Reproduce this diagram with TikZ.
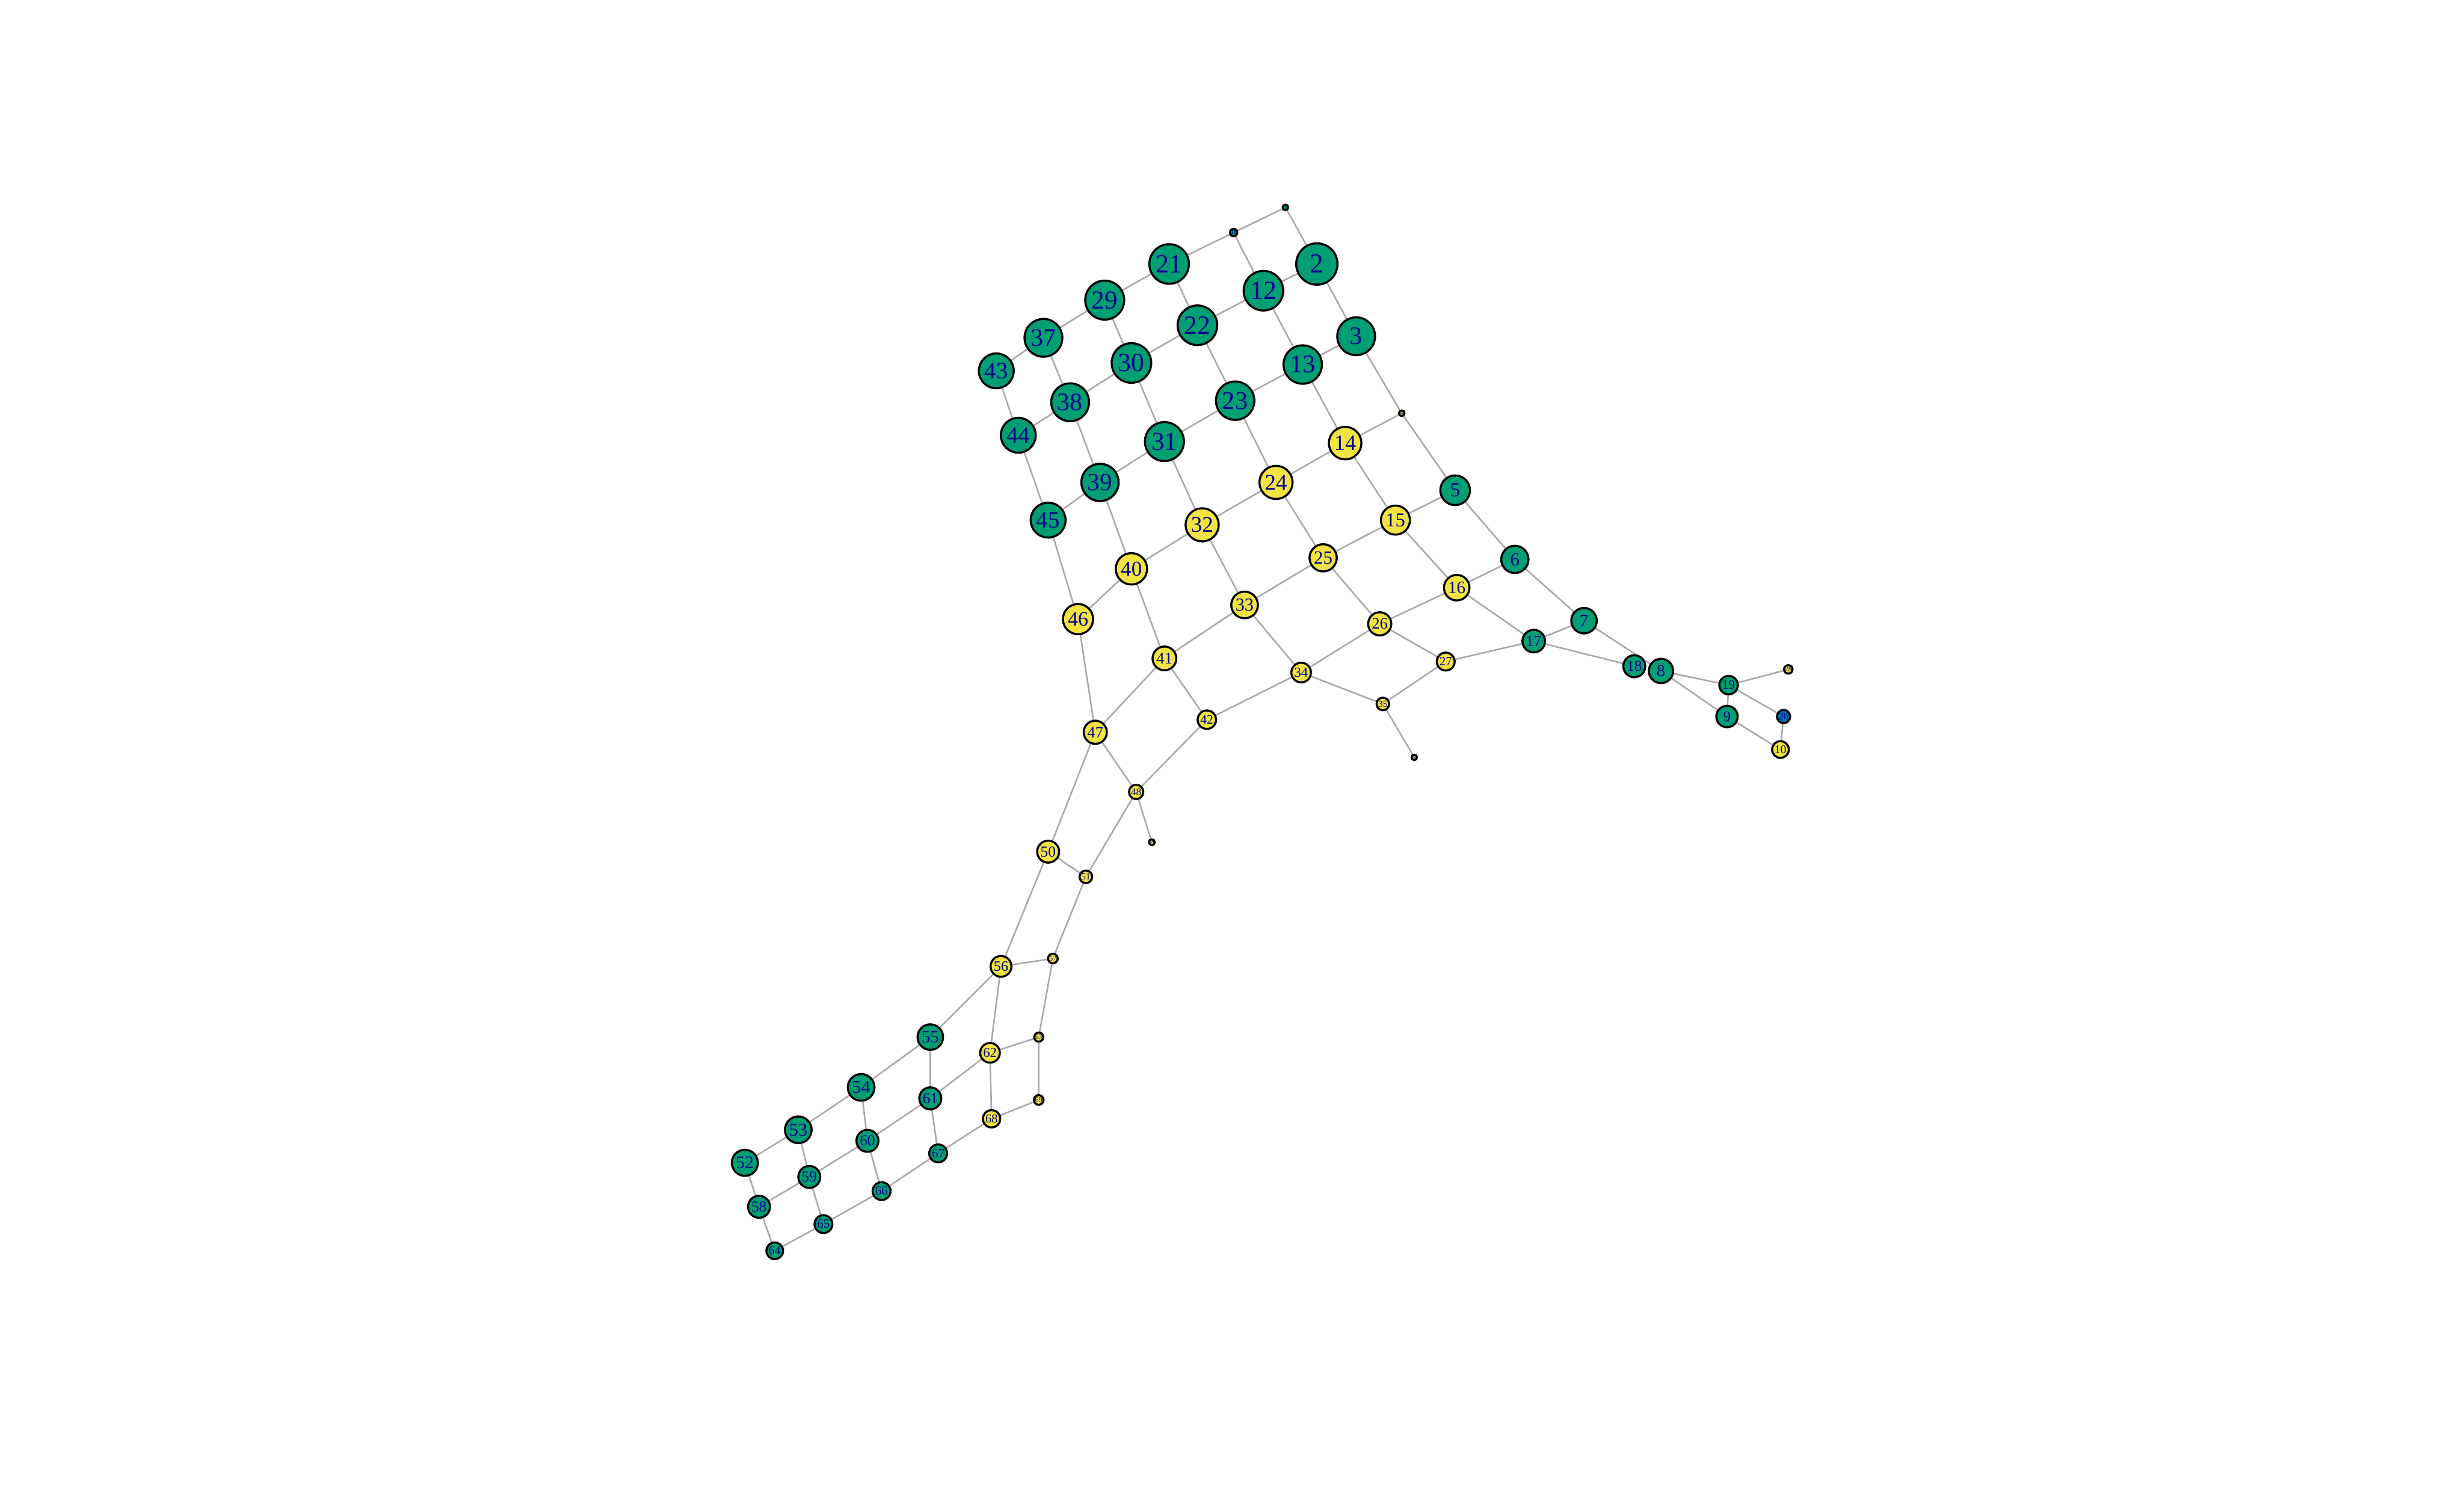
\documentclass[tikz,border=0pt]{standalone}
\usepackage{fontspec}
\setmainfont{Liberation Serif}
\usepackage{tikz}
\usetikzlibrary{backgrounds}
\definecolor{bluegreen}{HTML}{009E73}
\definecolor{okyellow}{HTML}{F0E442}
\definecolor{okblue}{HTML}{0072B2}
\definecolor{labelblue}{HTML}{00008B}
\definecolor{edgegray}{HTML}{A9A9A9}
\tikzset{
  vnode/.style={
    circle, draw=black, fill=#1, line width=1pt,
    inner sep=0pt, text=labelblue
  },
  vnode/.default=bluegreen,
  vsize/.style={
    minimum size=(#1-3.5)*0.01cm,
    font=\fontsize{\dimexpr #1pt*18/100\relax}{\dimexpr #1pt*20/100\relax}\selectfont
  },
  edgeline/.style={draw=edgegray, line width=0.75pt},
}
\begin{document}
\begin{tikzpicture}[x=0.026786cm, y=-0.026786cm]

\useasboundingbox (0,0) rectangle (1568,952);

% upper block
\node[vnode, vsize=13] (v1) at (818,132) {1};
\node[vnode, vsize=16] (v11) at (785,148) {11};
\node[vnode, vsize=74] (v2) at (838,168) {2};
\node[vnode, vsize=71] (v12) at (804,185) {12};
\node[vnode, vsize=71] (v21) at (744,168) {21};
\node[vnode, vsize=70] (v29) at (703,191) {29};
\node[vnode, vsize=68] (v37) at (664,215) {37};
\node[vnode, vsize=63] (v43) at (634,236) {43};
\node[vnode, vsize=71] (v22) at (762,207) {22};
\node[vnode, vsize=68] (v3) at (863,214) {3};
\node[vnode, vsize=69] (v13) at (829,232) {13};
\node[vnode, vsize=71] (v30) at (720,231) {30};
\node[vnode, vsize=68] (v38) at (681,256) {38};
\node[vnode, vsize=63] (v44) at (648,277) {44};
\node[vnode, vsize=69] (v23) at (786,255) {23};
\node[vnode=okyellow, vsize=13] (v4) at (892,263) {4};
\node[vnode=okyellow, vsize=59] (v14) at (856,282) {14};
\node[vnode, vsize=70] (v31) at (741,281) {31};
\node[vnode, vsize=67] (v39) at (700,307) {39};
\node[vnode, vsize=63] (v45) at (667,331) {45};
\node[vnode=okyellow, vsize=60] (v24) at (812,307) {24};
\node[vnode, vsize=54] (v5) at (926,312) {5};
\node[vnode=okyellow, vsize=53] (v15) at (888,331) {15};
\node[vnode=okyellow, vsize=60] (v32) at (765,334) {32};
\node[vnode=okyellow, vsize=57] (v40) at (720,362) {40};
\node[vnode=okyellow, vsize=55] (v46) at (686,394) {46};
\node[vnode=okyellow, vsize=50] (v25) at (842,355) {25};
\node[vnode, vsize=50] (v6) at (964,356) {6};
\node[vnode=okyellow, vsize=47] (v16) at (927,374) {16};
\node[vnode=okyellow, vsize=49] (v33) at (792,385) {33};
\node[vnode=okyellow, vsize=43] (v26) at (878,397) {26};
\node[vnode=okyellow, vsize=44] (v41) at (741,419) {41};
\node[vnode, vsize=47] (v7) at (1008,395) {7};
\node[vnode, vsize=42] (v17) at (976,408) {17};
\node[vnode=okyellow, vsize=34] (v27) at (920,421) {27};
\node[vnode=okyellow, vsize=37] (v34) at (828,428) {34};
\node[vnode=okyellow, vsize=25] (v35) at (880,448) {35};
\node[vnode=okyellow, vsize=12] (v36) at (900,482) {36};
\node[vnode=okyellow, vsize=35] (v42) at (768,458) {42};

% right tail
\node[vnode, vsize=41] (v18) at (1040,424) {18};
\node[vnode, vsize=45] (v8) at (1057,427) {8};
\node[vnode, vsize=35] (v19) at (1100,436) {19};
\node[vnode=okyellow, vsize=18] (v28) at (1138,426) {28};
\node[vnode, vsize=40] (v9) at (1099,456) {9};
\node[vnode=okblue, vsize=26] (v20) at (1135,456) {20};
\node[vnode=okyellow, vsize=32] (v10) at (1133,477) {10};

% neck
\node[vnode=okyellow, vsize=43] (v47) at (697,466) {47};
\node[vnode=okyellow, vsize=28] (v48) at (723,504) {48};
\node[vnode=okyellow, vsize=13] (v49) at (733,536) {49};
\node[vnode=okyellow, vsize=41] (v50) at (667,542) {50};
\node[vnode=okyellow, vsize=25] (v51) at (691,558) {51};
\node[vnode=okyellow, vsize=39] (v56) at (637,615) {56};
\node[vnode=okyellow, vsize=20] (v57) at (670,610) {57};

% lower block
\node[vnode, vsize=47] (v55) at (592,660) {55};
\node[vnode=okyellow, vsize=37] (v62) at (630,670) {62};
\node[vnode=okyellow, vsize=19] (v63) at (661,660) {63};
\node[vnode, vsize=49] (v54) at (548,692) {54};
\node[vnode, vsize=41] (v61) at (592,699) {61};
\node[vnode, vsize=49] (v53) at (508,719) {53};
\node[vnode, vsize=41] (v60) at (552,726) {60};
\node[vnode=okyellow, vsize=33] (v68) at (631,712) {68};
\node[vnode=okyellow, vsize=20] (v69) at (661,700) {69};
\node[vnode, vsize=34] (v67) at (597,734) {67};
\node[vnode, vsize=48] (v52) at (474,740) {52};
\node[vnode, vsize=41] (v59) at (515,749) {59};
\node[vnode, vsize=34] (v66) at (561,758) {66};
\node[vnode, vsize=41] (v58) at (483,768) {58};
\node[vnode, vsize=34] (v65) at (524,779) {65};
\node[vnode, vsize=32] (v64) at (493,796) {64};

\begin{scope}[on background layer]
\fill[white] (0,0) rectangle (1568,952);
\foreach \a/\b in {1/11, 1/2, 11/21, 11/12, 21/29, 29/37, 37/43, 21/22,
    2/12, 12/22, 12/13, 2/3, 29/30, 22/30, 22/23, 3/13, 3/4, 37/38,
    30/38, 43/44, 38/44, 30/31, 13/23, 13/14, 4/14, 4/5, 23/31, 23/24,
    38/39, 31/39, 44/45, 39/45, 14/24, 14/15, 31/32, 24/32, 5/15, 5/6,
    39/40, 45/46, 32/40, 24/25, 15/25, 15/16, 6/16, 40/46, 32/33, 25/33,
    25/26, 16/26, 16/17, 40/41, 46/47, 33/41, 33/34, 26/34, 26/27, 17/27,
    41/47, 41/42, 34/42, 34/35, 27/35, 35/36,
    6/7, 7/17, 7/8, 17/18, 8/19, 8/9, 9/19, 19/20, 19/28, 9/10, 10/20,
    42/48, 47/48, 47/50, 48/49, 48/51, 50/51, 50/56, 51/57, 56/57,
    55/56, 56/62, 57/63, 54/55, 55/61, 62/63, 61/62, 62/68, 63/69,
    53/54, 54/60, 60/61, 61/67, 68/69, 67/68, 52/53, 53/59, 59/60,
    60/66, 66/67, 52/58, 58/59, 59/65, 65/66, 58/64, 64/65}
  \draw[edgeline] (v\a) -- (v\b);
\end{scope}

\end{tikzpicture}
\end{document}
